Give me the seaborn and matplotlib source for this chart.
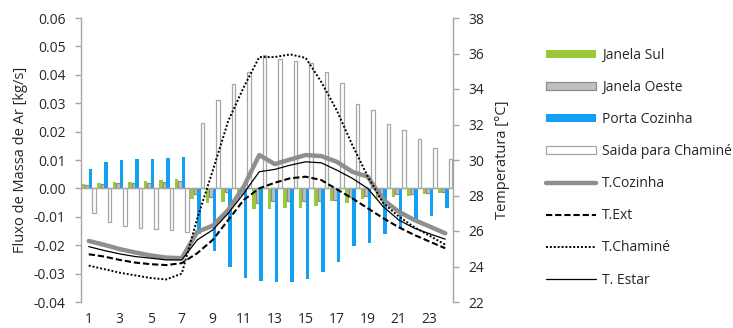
"""
Fluxo de massa de ar pelas aberturas e temperaturas ao longo do dia
"""
import matplotlib
matplotlib.use("Agg")
import matplotlib.pyplot as plt
import seaborn as sns
import pandas as pd
import numpy as np

# dados
horas = list(range(1, 25))

janela_sul = [0.0016, 0.0020, 0.0022, 0.0023, 0.0025, 0.0029, 0.0032, -0.0036,
              -0.0053, -0.0048, -0.0035, -0.0072, -0.0072, -0.0068, -0.0068, -0.0062,
              -0.0045, -0.0051, -0.0039, -0.0033, -0.0029, -0.0027, -0.0021, -0.0015]
janela_oeste = [0.0012, 0.0016, 0.0018, 0.0018, 0.0019, 0.0022, 0.0025, -0.0020,
                -0.0030, -0.0012, -0.0020, -0.0050, -0.0045, -0.0045, -0.0045, -0.0043,
                -0.0040, -0.0030, -0.0025, -0.0020, -0.0020, -0.0018, -0.0015, -0.0012]
porta_cozinha = [0.0067, 0.0093, 0.0099, 0.0102, 0.0104, 0.0108, 0.0110, -0.0160,
                 -0.0221, -0.0276, -0.0315, -0.0327, -0.0330, -0.0329, -0.0318, -0.0295,
                 -0.0260, -0.0203, -0.0192, -0.0160, -0.0142, -0.0119, -0.0098, -0.0069]
saida_chamine = [-0.0087, -0.0120, -0.0133, -0.0138, -0.0142, -0.0147, -0.0155, 0.0229,
                 0.0313, 0.0369, 0.0410, 0.0468, 0.0455, 0.0449, 0.0440, 0.0411,
                 0.0370, 0.0298, 0.0276, 0.0228, 0.0207, 0.0173, 0.0142, 0.0102]

t_cozinha = [25.44, 25.22, 24.98, 24.79, 24.62, 24.50, 24.47, 25.95, 26.30, 27.19, 28.50, 30.28,
             29.77, 30.03, 30.28, 30.22, 29.90, 29.34, 29.06, 27.75, 27.09, 26.62, 26.25, 25.87]
t_ext = [24.69, 24.56, 24.37, 24.22, 24.13, 24.08, 24.19, 24.75, 25.50, 26.62, 27.75, 28.40,
         28.72, 28.97, 29.06, 28.87, 28.35, 27.84, 27.28, 26.72, 26.21, 25.78, 25.40, 25.03]
t_chamine = [24.05, 23.85, 23.65, 23.50, 23.35, 23.27, 23.60, 26.70, 29.40, 32.20, 34.10, 35.80,
             35.80, 35.95, 35.75, 34.40, 32.80, 30.85, 29.07, 27.57, 26.82, 26.22, 25.73, 25.23]
t_estar = [25.12, 24.90, 24.71, 24.56, 24.47, 24.37, 24.37, 25.50, 26.06, 27.00, 28.12, 29.34,
           29.47, 29.71, 29.90, 29.84, 29.43, 28.97, 28.40, 27.37, 26.62, 26.16, 25.84, 25.54]

nomes_barras = ["Janela Sul", "Janela Oeste", "Porta Cozinha", "Saida para Chaminé"]
cores_barras = ["#99c93a", "#c0c0c0", "#12a0f5", "#ffffff"]
bordas_barras = [None, "#8c8c8c", None, "#a6a6a6"]

cinza = "#a6a6a6"
cor_texto = "#262626"

sns.set_theme(style="white")
plt.rcParams["font.family"] = ["Open Sans", "DejaVu Sans"]

tabela = pd.DataFrame({
    "hora": horas * 4,
    "serie": sum([[n] * len(horas) for n in nomes_barras], []),
    "valor": janela_sul + janela_oeste + porta_cozinha + saida_chamine,
})

fig = plt.figure(figsize=(7.33, 3.28), dpi=100)
ax = fig.add_axes([81 / 733, 1 - 302 / 328, (453 - 81) / 733, (302 - 18) / 328])

sns.barplot(data=tabela, x="hora", y="valor", hue="serie", hue_order=nomes_barras,
            palette=cores_barras, saturation=1, width=0.88, errorbar=None,
            legend=False, ax=ax, zorder=2)

for cont, borda in zip(ax.containers, bordas_barras):
    for barra in cont:
        if borda is None:
            barra.set_edgecolor("none")
            barra.set_linewidth(0)
        else:
            barra.set_edgecolor(borda)
            barra.set_linewidth(0.9)

ax.axhline(0, color=cinza, linewidth=1, zorder=3)
ax.set_ylim(-0.04, 0.06)
ax.set_yticks(np.arange(-0.04, 0.0601, 0.01))
ax.set_yticklabels([f"{v:.2f}" for v in np.arange(-0.04, 0.0601, 0.01)])
ax.set_xlim(-0.5, len(horas) - 0.5)
ax.set_xticks(range(0, len(horas), 2))
ax.set_xticklabels([str(h) for h in horas[::2]])
ax.set_xlabel("")
ax.set_ylabel("Fluxo de Massa de Ar [kg/s]", fontsize=10.5, color=cor_texto, labelpad=4)
ax.tick_params(axis="y", direction="out", length=4, width=1, color=cinza, pad=7,
               labelsize=10, labelcolor=cor_texto, left=True)
ax.tick_params(axis="x", length=0, pad=7, labelsize=10, labelcolor=cor_texto)
for lado in ["top", "right", "bottom"]:
    ax.spines[lado].set_visible(False)
ax.spines["left"].set_color(cinza)
ax.spines["left"].set_linewidth(1)

# temperaturas no eixo secundário
ax2 = ax.twinx()
posicoes = np.arange(len(horas))
sns.lineplot(x=posicoes, y=t_cozinha, ax=ax2, color="#8f8f8f", linewidth=3.2,
             label="T.Cozinha", legend=False)
sns.lineplot(x=posicoes, y=t_ext, ax=ax2, color="black", linewidth=1.5,
             dashes=False, linestyle=(0, (3, 1.4)), label="T.Ext", legend=False)
sns.lineplot(x=posicoes, y=t_chamine, ax=ax2, color="black", linewidth=1.4,
             dashes=False, linestyle=(0, (1, 1)), label="T.Chaminé", legend=False)
sns.lineplot(x=posicoes, y=t_estar, ax=ax2, color="black", linewidth=0.9,
             label="T. Estar", legend=False)

ax2.set_ylim(22, 38)
ax2.set_yticks(range(22, 39, 2))
ax2.set_ylabel("Temperatura [°C]", fontsize=10.5, color=cor_texto, labelpad=8)
ax2.tick_params(axis="y", direction="out", length=4, width=1, color=cinza, pad=7,
                labelsize=10, labelcolor=cor_texto, right=True)
for lado in ["top", "left", "bottom"]:
    ax2.spines[lado].set_visible(False)
ax2.spines["right"].set_color(cinza)
ax2.spines["right"].set_linewidth(1)

handles = list(ax.containers) + list(ax2.lines)
labels = nomes_barras + ["T.Cozinha", "T.Ext", "T.Chaminé", "T. Estar"]
fig.legend(handles, labels, loc="upper left", bbox_to_anchor=(546 / 733, 1 - 48 / 328),
           frameon=False, fontsize=10, handlelength=3.6, handleheight=0.5,
           handletextpad=0.45, labelspacing=1.23, borderaxespad=0, borderpad=0,
           labelcolor=cor_texto)

plt.savefig("out.png", dpi=100)
